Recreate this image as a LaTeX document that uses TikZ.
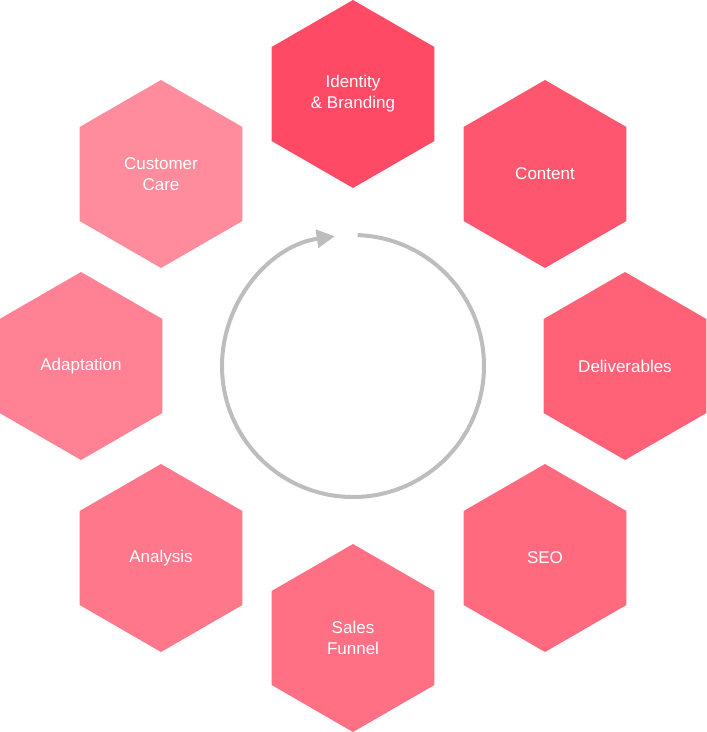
\documentclass[tikz,border=0pt]{standalone}
\usepackage{fontspec}
\setmainfont{Liberation Sans}
\usetikzlibrary{arrows.meta}
\definecolor{c1}{HTML}{FF4A66}
\definecolor{c2}{HTML}{FF5670}
\definecolor{c3}{HTML}{FF6177}
\definecolor{c4}{HTML}{FF6A7F}
\definecolor{c5}{HTML}{FF7085}
\definecolor{c6}{HTML}{FF778B}
\definecolor{c7}{HTML}{FF8193}
\definecolor{c8}{HTML}{FF8C9C}
\definecolor{ring}{HTML}{BDBDBD}
\tikzset{lbl/.style={text=white,align=center,font=\fontsize{17}{21}\selectfont}}
\newcommand{\hexa}[4]{%
  \fill[#3] (#1) +(90:94) -- +(30:94) -- +(-30:94) -- +(-90:94) -- +(-150:94) -- +(150:94) -- cycle;
  \node[lbl] (#2) at (#1) {#4};}
\begin{document}
\begin{tikzpicture}[x=1pt,y=-1pt]
\useasboundingbox (0,0) rectangle (707,732);
\coordinate (ctr) at (353,366);
\hexa{353,94}{ident}{c1}{Identity\\\& Branding}
\hexa{545,174}{cont}{c2}{Content}
\hexa{625,366}{deliv}{c3}{Deliverables}
\hexa{545,558}{seo}{c4}{SEO}
\hexa{353,638}{sales}{c5}{Sales\\Funnel}
\hexa{161,558}{anal}{c6}{Analysis}
\hexa{81,366}{adapt}{c7}{Adaptation}
\hexa{161,174}{care}{c8}{Customer\\Care}
\draw[ring,line width=4,-{Triangle[length=18,width=18]}] (ctr) ++(-88:131) arc[start angle=-88,end angle=262,radius=131];
\end{tikzpicture}
\end{document}
